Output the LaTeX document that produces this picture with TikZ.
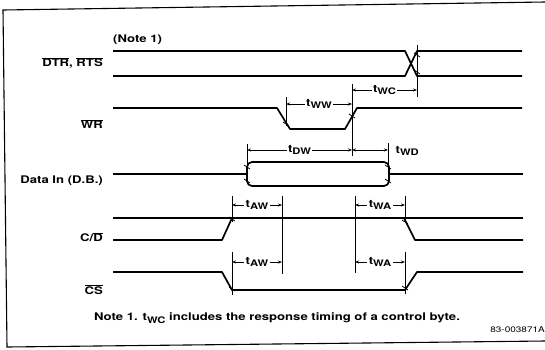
\documentclass[tikz,border=0pt]{standalone}
\usepackage{fontspec}
\setmainfont{TeX Gyre Heros}[FakeStretch=1.25]
\usetikzlibrary{arrows.meta,positioning}

\newcommand{\tsub}[1]{t\raisebox{-0.45ex}{\small #1}}

\begin{document}
\begin{tikzpicture}[x=1pt,y=-1pt,
                    wave/.style={line width=1.7pt,line join=round},
                    guide/.style={line width=0.8pt},
                    dimline/.style={line width=0.8pt,
                      {Stealth[length=4pt,width=3pt]}-{Stealth[length=4pt,width=3pt]}},
                    sig/.style={font=\bfseries\fontsize{10.5}{12}\selectfont,anchor=east,inner sep=0pt},
                    tlab/.style={font=\bfseries\fontsize{10.5}{12}\selectfont,fill=white,inner sep=1.5pt}]
  \useasboundingbox (0,0) rectangle (545,349);
  % frame (right edge cut off)
  \draw[line width=1.1pt] (545,2) -- (3,10) -- (7,347) -- (545,341);

  % signal names
  \node[sig,anchor=west] (note) at (113,40) {(Note 1)};
  \node[sig] (dtr)  at (103,63)  {$\overline{\mbox{DTR}}$, $\overline{\mbox{RTS}}$};
  \node[sig] (wr)   at (103,124) {$\overline{\mbox{WR}}$};
  \node[sig] (data) at (103,181) {Data In (D.B.)};
  \node[sig] (cd)   at (103,237) {C/$\overline{\mbox{D}}$};
  \node[sig] (cs)   at (103,290) {$\overline{\mbox{CS}}$};

  % waveforms
  \draw[wave] (113,51) -- (405,51) -- (417,76) -- (522,76);
  \draw[wave] (113,76) -- (405,76) -- (417,51) -- (522,51);
  \draw[wave] (113,108) -- (277,108) -- (290,129) -- (345,129) -- (357,108) -- (522,108);
  \draw[wave] (113,174) -- (246,174);
  \draw[wave,rounded corners=5pt] (247,162) rectangle (389,186);
  \draw[wave] (390,174) -- (523,174);
  \draw[wave] (113,218) -- (523,218);
  \draw[wave] (113,240) -- (222,240) -- (232,218);
  \draw[wave] (404,218) -- (415,240) -- (523,240);
  \draw[wave] (113,272) -- (222,272) -- (232,290) -- (405,290) -- (417,272) -- (523,272);

  % small marks where the reference lines cut the edges
  \foreach \x/\y in {417/55, 417/72, 286/124, 352/116, 247/167, 247/181,
                     388/167, 388/181, 232/219, 405/222, 232/289, 405/288}
    \draw[guide] (\x-3,\y-2) -- (\x+3,\y+2);

  % reference lines
  \coordinate (wcR) at (417,90);
  \coordinate (wrUp) at (352,90);
  \coordinate (wwL) at (286,104);
  \coordinate (dwL) at (247,150);
  \coordinate (wdR) at (388,150);
  \coordinate (awL) at (232,205);
  \coordinate (awR) at (282,205);
  \coordinate (waL) at (355,205);
  \coordinate (waR) at (405,205);
  \draw[guide] (417,45) -- (417,97);
  \draw[guide] (352,84) -- (352,156);
  \draw[guide] (286,97) -- (286,126);
  \draw[guide] (247,144) -- (247,168);
  \draw[guide] (388,143) -- (388,170);
  \draw[guide] (232,196) -- (232,222);
  \draw[guide] (232,252) -- (232,295);
  \draw[guide] (282,196) -- (282,274);
  \draw[guide] (355,196) -- (355,273);
  \draw[guide] (405,196) -- (405,222);
  \draw[guide] (405,252) -- (405,294);

  % timing arrows
  \draw[dimline] (wwL) -- node[tlab] (tww) {\tsub{WW}} (wwL -| wrUp);
  \draw[dimline] (wrUp) -- node[tlab] (twc) {\tsub{WC}} (wcR);
  \draw[dimline] (dwL) -- node[tlab] (tdw) {\tsub{DW}} (dwL -| wrUp);
  \draw[dimline] (dwL -| wrUp) -- (wdR);
  \node[tlab,anchor=west] (twd) at ([xshift=6pt,yshift=-1pt]wdR) {\tsub{WD}};
  \draw[dimline] (awL) -- node[tlab] (taw1) {\tsub{AW}} (awR);
  \draw[dimline] (waL) -- node[tlab] (twa1) {\tsub{WA}} (waR);
  \draw[dimline] ([yshift=-57pt]awL) -- node[tlab] (taw2) {\tsub{AW}} ([yshift=-57pt]awR);
  \draw[dimline] ([yshift=-57pt]waL) -- node[tlab] (twa2) {\tsub{WA}} ([yshift=-57pt]waR);

  % notes
  \node[font=\bfseries\fontsize{10.5}{12}\selectfont] (note1) at (277,318)
    {Note 1. \tsub{WC} includes the response timing of a control byte.};
  \node[font=\fontsize{8}{10}\selectfont,anchor=east,inner sep=0pt] (code) at (545,330) {83-003871A};
\end{tikzpicture}
\end{document}
